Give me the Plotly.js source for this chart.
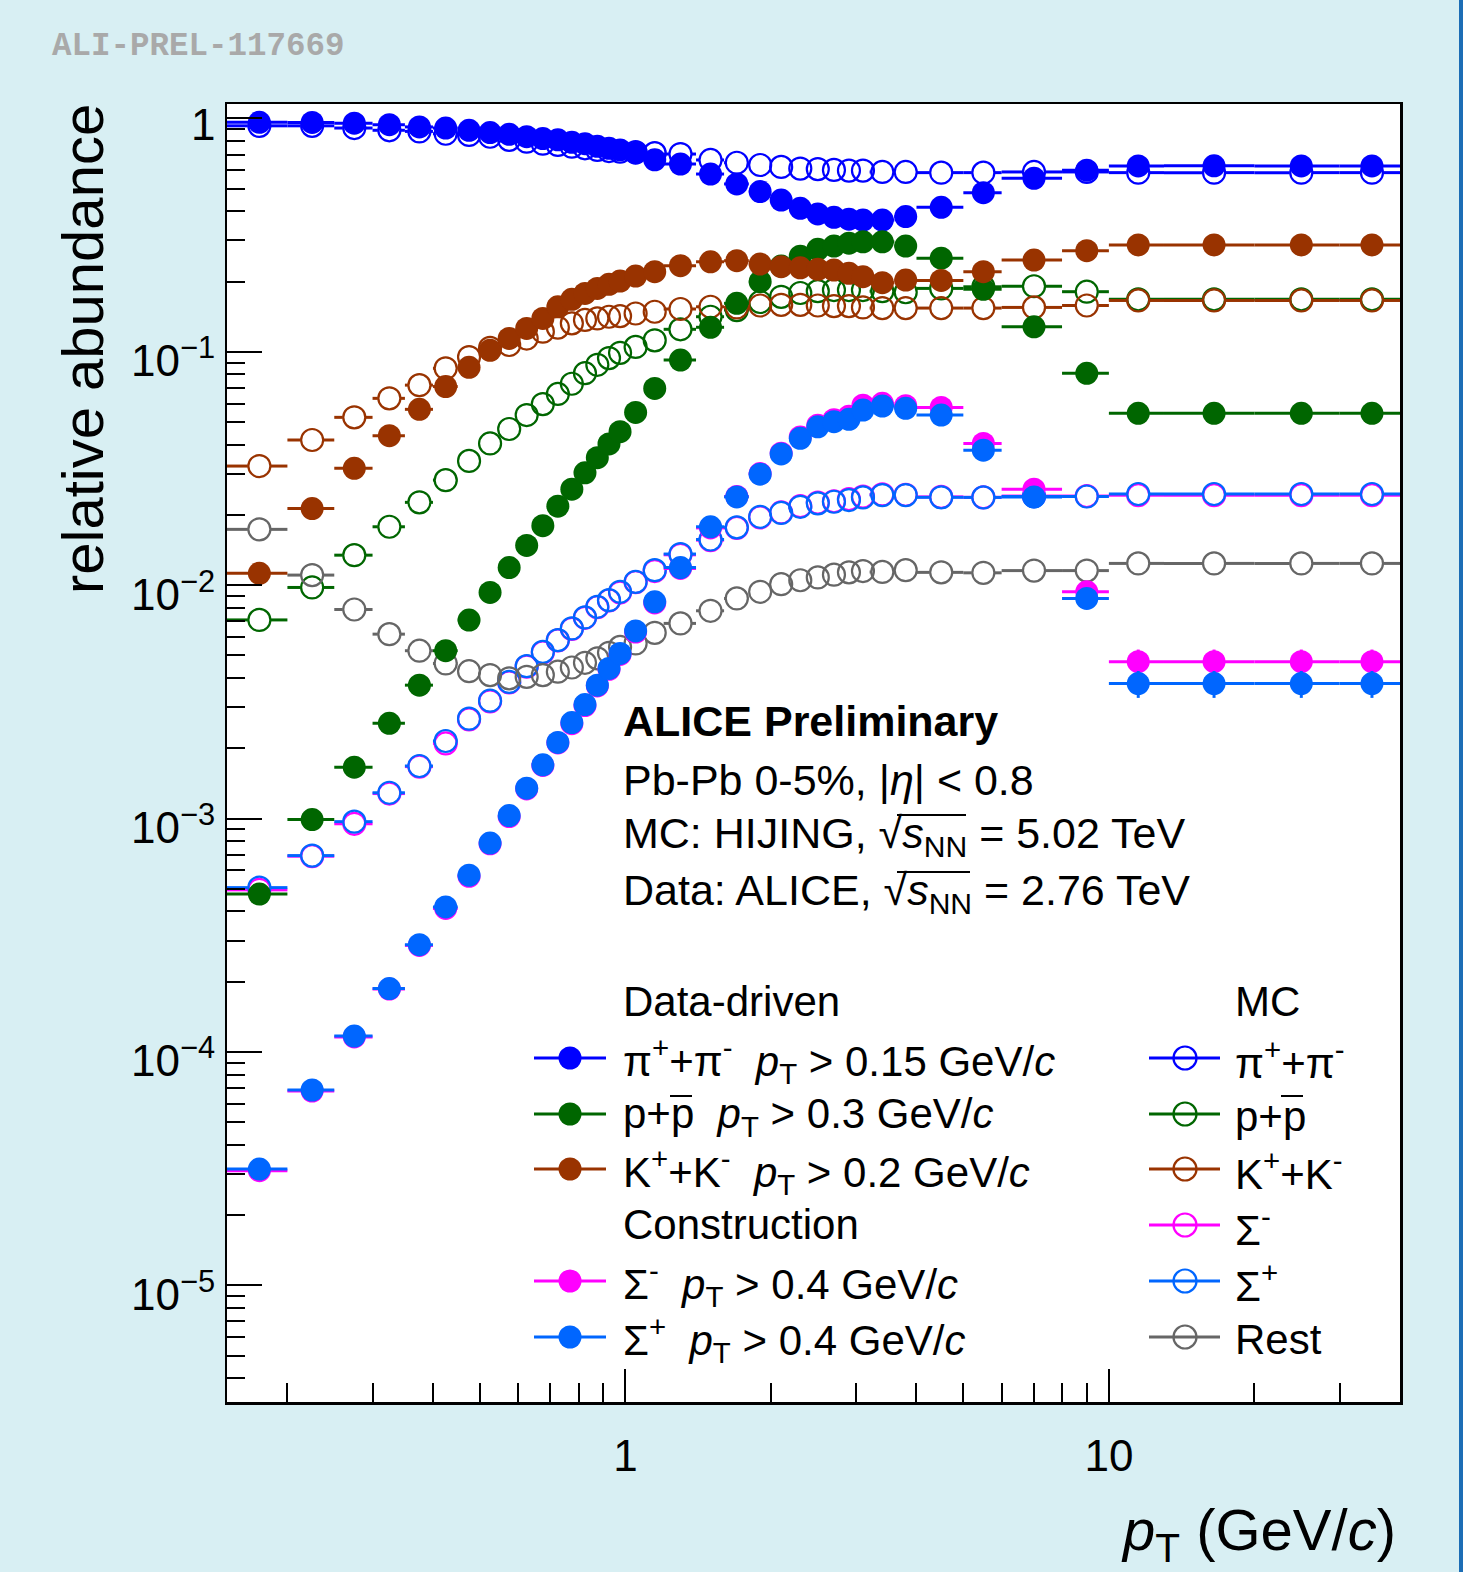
<!DOCTYPE html>
<html><head><meta charset="utf-8">
<script src="https://cdn.plot.ly/plotly-3.0.1.min.js"></script>
<style>html,body{margin:0;padding:0;background:#d8eff3;} #chart{width:1463px;height:1572px;}</style>
</head><body><div id="chart"></div><script>
// ---- bins (GeV/c) ----
const ptLow    = [0.15,0.2,0.25,0.3,0.35,0.4,0.45,0.5,0.55,0.6,0.65,0.7,0.75,0.8,0.85,0.9,0.95,1.0,1.1,1.2,1.4,1.6,1.8,2.0,2.2,2.4,2.6,2.8,3.0,3.2,3.6,4.0,5.0,6.0,8.0,10,13,20,30];
const ptHigh   = [0.2,0.25,0.3,0.35,0.4,0.45,0.5,0.55,0.6,0.65,0.7,0.75,0.8,0.85,0.9,0.95,1.0,1.1,1.2,1.4,1.6,1.8,2.0,2.2,2.4,2.6,2.8,3.0,3.2,3.6,4.0,5.0,6.0,8.0,10,13,20,30,40];
const ptCenter = [0.175,0.225,0.275,0.325,0.375,0.425,0.475,0.525,0.575,0.625,0.675,0.725,0.775,0.825,0.875,0.925,0.975,1.05,1.15,1.3,1.5,1.7,1.9,2.1,2.3,2.5,2.7,2.9,3.1,3.4,3.8,4.5,5.5,7,9,11.5,16.5,25,35];

// ---- data-driven (filled) ----
const piData = [0.963,0.962,0.954,0.94,0.92,0.91,0.89,0.87,0.855,0.835,0.82,0.81,0.79,0.78,0.76,0.745,0.733,0.71,0.665,0.638,0.578,0.524,0.486,0.447,0.412,0.39,0.377,0.37,0.367,0.367,0.38,0.416,0.481,0.554,0.60,0.626,0.627,0.626,0.626];
const pData  = [4.75e-4,9.9e-4,1.66e-3,2.56e-3,3.73e-3,5.24e-3,7.09e-3,9.31e-3,0.0119,0.0148,0.018,0.0218,0.0258,0.0303,0.0352,0.0403,0.0455,0.055,0.0697,0.0922,0.1274,0.1614,0.1998,0.233,0.257,0.275,0.284,0.292,0.296,0.296,0.284,0.252,0.1853,0.128,0.0809,0.0545,0.0545,0.0545,0.0545];
const kData  = [0.01124,0.0213,0.0317,0.0437,0.0567,0.071,0.0858,0.1015,0.1142,0.126,0.139,0.156,0.168,0.178,0.187,0.1947,0.201,0.2113,0.2205,0.234,0.2432,0.2458,0.2378,0.2317,0.229,0.2258,0.224,0.217,0.21,0.1978,0.203,0.2023,0.2205,0.2474,0.2713,0.287,0.287,0.287,0.287];
const sigMinusData = [3.1e-5,6.8e-5,1.16e-4,1.86e-4,2.86e-4,4.12e-4,5.66e-4,7.8e-4,1.02e-3,1.34e-3,1.69e-3,2.11e-3,2.55e-3,3.05e-3,3.70e-3,4.36e-3,5.05e-3,6.3e-3,8.4e-3,0.0118,0.0176,0.0240,0.0301,0.0368,0.0432,0.0485,0.0512,0.0530,0.0591,0.0602,0.0588,0.0578,0.0405,0.0258,9.37e-3,4.7e-3,4.7e-3,4.7e-3,4.7e-3];
const sigPlusData  = [3.15e-5,6.87e-5,1.17e-4,1.87e-4,2.88e-4,4.18e-4,5.72e-4,7.85e-4,1.03e-3,1.35e-3,1.70e-3,2.12e-3,2.58e-3,3.08e-3,3.73e-3,4.40e-3,5.10e-3,6.37e-3,8.49e-3,0.0119,0.0178,0.0239,0.0299,0.0365,0.0426,0.0477,0.0502,0.0514,0.0563,0.0586,0.0573,0.0536,0.0379,0.0239,8.78e-3,3.79e-3,3.79e-3,3.79e-3,3.79e-3];
const sigMinusDataErr = [0,0,0,0,0,0,0,0,0,0,0,0,0,0,0,0,0,0,0,0,0,0,0,0,0,0,0,0,0,0,0,0,0,0,0,6e-4,6e-4,6e-4,6e-4];
const sigPlusDataErr  = [0,0,0,0,0,0,0,0,0,0,0,0,0,0,0,0,0,0,0,0,0,0,0,0,0,0,0,0,0,0,0,0,0,0,0,5e-4,5e-4,5e-4,5e-4];

// ---- MC HIJING (open) ----
const piMC = [0.93,0.93,0.91,0.89,0.88,0.86,0.85,0.835,0.81,0.795,0.78,0.77,0.757,0.745,0.733,0.725,0.72,0.718,0.71,0.704,0.664,0.646,0.632,0.62,0.61,0.607,0.602,0.598,0.598,0.59,0.59,0.586,0.586,0.59,0.59,0.586,0.586,0.586,0.586];
const pMC  = [7.1e-3,9.78e-3,0.01345,0.0178,0.02265,0.0282,0.0341,0.0405,0.0467,0.0536,0.0597,0.066,0.073,0.081,0.088,0.094,0.099,0.105,0.112,0.1249,0.1414,0.151,0.1635,0.172,0.1787,0.182,0.184,0.184,0.184,0.182,0.18,0.187,0.19,0.191,0.181,0.168,0.168,0.168,0.168];
const kMC  = [0.0324,0.0419,0.0524,0.0632,0.072,0.085,0.095,0.104,0.107,0.114,0.122,0.127,0.1325,0.137,0.139,0.1414,0.1423,0.146,0.1485,0.1526,0.156,0.155,0.158,0.159,0.159,0.158,0.157,0.157,0.155,0.154,0.154,0.154,0.154,0.155,0.158,0.166,0.166,0.166,0.166];
const sigMinusMC = [4.95e-4,6.9e-4,9.5e-4,1.28e-3,1.67e-3,2.10e-3,2.66e-3,3.18e-3,3.83e-3,4.48e-3,5.15e-3,5.8e-3,6.5e-3,7.25e-3,8.05e-3,8.6e-3,9.3e-3,0.0103,0.0115,0.0135,0.0156,0.0176,0.0195,0.0205,0.0218,0.0226,0.0229,0.0234,0.0240,0.0245,0.0244,0.0239,0.0238,0.0241,0.0241,0.0243,0.0243,0.0243,0.0243];
const sigPlusMC  = [5.06e-4,6.94e-4,9.7e-4,1.29e-3,1.68e-3,2.15e-3,2.68e-3,3.2e-3,3.85e-3,4.5e-3,5.18e-3,5.82e-3,6.53e-3,7.28e-3,8.08e-3,8.63e-3,9.37e-3,0.01034,0.0116,0.0136,0.0157,0.0177,0.01964,0.0204,0.02168,0.02243,0.02278,0.02317,0.02378,0.02433,0.02433,0.0238,0.02378,0.024,0.024,0.0246,0.0246,0.0246,0.0246];
const restMC = [0.01735,0.01105,7.87e-3,6.17e-3,5.24e-3,4.62e-3,4.28e-3,4.12e-3,3.99e-3,4.05e-3,4.12e-3,4.26e-3,4.44e-3,4.65e-3,4.86e-3,5.13e-3,5.44e-3,5.63e-3,6.25e-3,6.86e-3,7.77e-3,8.78e-3,9.37e-3,0.0101,0.0105,0.0108,0.0111,0.01135,0.0115,0.0114,0.0116,0.01135,0.0113,0.01155,0.01155,0.0124,0.0124,0.0124,0.0124];

// ---- axis ticks ----
const xTickVals = [1,10];
const xTickText = ['1','10'];
const xMinorVals = [0.2,0.3,0.4,0.5,0.6,0.7,0.8,0.9,2,3,4,5,6,7,8,9,20,30];
const yTickVals = [1e-5,1e-4,1e-3,1e-2,1e-1,1];
const yTickText = ['10<sup>\u22125</sup>','10<sup>\u22124</sup>','10<sup>\u22123</sup>','10<sup>\u22122</sup>','10<sup>\u22121</sup>','1'];
const yMinorVals = [];
[1e-6,1e-5,1e-4,1e-3,1e-2,1e-1].forEach(d => [2,3,4,5,6,7,8,9].forEach(m => yMinorVals.push(m*d)));

// ---- colours / labels ----
const colPi = '#0000ff', colP = '#006600', colK = '#993300', colSm = '#ff00ff', colSp = '#0066ff', colRest = '#666666';
const legendData = [
  {label:'\u03c0<sup>+</sup>+\u03c0<sup>-</sup>  <i>p</i><sub>T</sub> > 0.15 GeV/<i>c</i>', color: colPi},
  {label:'p+p  <i>p</i><sub>T</sub> > 0.3 GeV/<i>c</i>', color: colP},
  {label:'K<sup>+</sup>+K<sup>-</sup>  <i>p</i><sub>T</sub> > 0.2 GeV/<i>c</i>', color: colK},
  {label:'\u03a3<sup>-</sup>  <i>p</i><sub>T</sub> > 0.4 GeV/<i>c</i>', color: colSm},
  {label:'\u03a3<sup>+</sup>  <i>p</i><sub>T</sub> > 0.4 GeV/<i>c</i>', color: colSp}
];
const legendMC = [
  {label:'\u03c0<sup>+</sup>+\u03c0<sup>-</sup>', color: colPi},
  {label:'p+p', color: colP},
  {label:'K<sup>+</sup>+K<sup>-</sup>', color: colK},
  {label:'\u03a3<sup>-</sup>', color: colSm},
  {label:'\u03a3<sup>+</sup>', color: colSp},
  {label:'Rest', color: colRest}
];

// ---- geometry ----
const W = 1463, H = 1572, L = 227, R = 1400, T = 104, B = 1402;
const xRange = [Math.log10(0.15), Math.log10(40)];
const yRange = [-5.5, 0.062];
const px = x => (x - L) / (R - L);
const py = y => (B - y) / (B - T);
const pxPerDec = (R - L) / (xRange[1] - xRange[0]);
const MS = 23, MR = 11.5;
const font = 'Liberation Sans, Arial, Helvetica, sans-serif';

function dataTrace(vals, color, errY) {
  return {
    x: ptCenter, y: vals, type: 'scatter', mode: 'markers',
    marker: {symbol: 'circle', size: MS, color: color, line: {width: 0}},
    error_x: {type: 'data', symmetric: false,
      array: ptHigh.map((h, i) => h - ptCenter[i]),
      arrayminus: ptLow.map((l, i) => ptCenter[i] - l),
      color: color, thickness: 3, width: 0},
    error_y: errY ? {type: 'data', array: errY, color: color, thickness: 3, width: 0} : {visible: false},
    showlegend: false, hoverinfo: 'skip'
  };
}
function mcTraces(vals, color) {
  const f = Math.pow(10, MR / pxPerDec);
  const sx = [], sy = [];
  vals.forEach((v, i) => {
    const c = ptCenter[i];
    if (ptLow[i] < c / f) { sx.push(ptLow[i], c / f, null); sy.push(v, v, null); }
    if (ptHigh[i] > c * f) { sx.push(c * f, ptHigh[i], null); sy.push(v, v, null); }
  });
  return [
    {x: sx, y: sy, type: 'scatter', mode: 'lines', line: {color: color, width: 3}, connectgaps: false, showlegend: false, hoverinfo: 'skip'},
    {x: ptCenter, y: vals, type: 'scatter', mode: 'markers',
      marker: {symbol: 'circle-open', size: MS - 1, color: color, line: {width: 2.2, color: color}},
      showlegend: false, hoverinfo: 'skip'}
  ];
}

const traces = [].concat(
  mcTraces(piMC, colPi), mcTraces(pMC, colP), mcTraces(kMC, colK),
  mcTraces(sigMinusMC, colSm), mcTraces(sigPlusMC, colSp), mcTraces(restMC, colRest),
  [dataTrace(piData, colPi), dataTrace(pData, colP), dataTrace(kData, colK),
   dataTrace(sigMinusData, colSm, sigMinusDataErr), dataTrace(sigPlusData, colSp, sigPlusDataErr)]
);

// ---- legend (drawn) ----
const shapes = [], annotations = [];
const rowsLeft = [1058, 1114, 1169, 1281, 1337];
const rowsRight = [1058, 1114, 1169, 1225, 1281, 1337];
function legendSample(cx, x0, x1, y, color, filled) {
  shapes.push({type: 'line', xref: 'paper', yref: 'paper', x0: px(x0), x1: px(x1), y0: py(y), y1: py(y), line: {color: color, width: 3}});
  shapes.push({type: 'circle', xref: 'paper', yref: 'paper', xsizemode: 'pixel', ysizemode: 'pixel',
    xanchor: px(cx), yanchor: py(y), x0: -MR, x1: MR, y0: -MR, y1: MR,
    fillcolor: filled ? color : 'rgba(0,0,0,0)', line: {color: color, width: filled ? 0 : 2.2}});
}
function txt(text, x, y, size, opts) {
  annotations.push(Object.assign({text: text, xref: 'paper', yref: 'paper', x: px(x), y: py(y),
    xanchor: 'left', yanchor: 'middle', showarrow: false, font: {family: font, size: size, color: '#000'}}, opts || {}));
}
function bar(x0, x1, y, w) {
  shapes.push({type: 'line', xref: 'paper', yref: 'paper', x0: px(x0), x1: px(x1), y0: py(y), y1: py(y), line: {color: '#000', width: w || 2}});
}
legendData.forEach((e, i) => { legendSample(570, 534, 606, rowsLeft[i], e.color, true); txt(e.label, 621, rowsLeft[i] + 2, 42); });
legendMC.forEach((e, i) => { legendSample(1185, 1149, 1220, rowsRight[i], e.color, false); txt(e.label, 1233, rowsRight[i] + 2, 42); });
txt('Data-driven', 621, 1001, 42);
txt('Construction', 621, 1224, 42);
txt('MC', 1233, 1001, 42);
// anti-proton bars
bar(670, 692, 1096, 2);
bar(1281, 1303, 1096, 2);

// ---- text block ----
txt('<b>ALICE Preliminary</b>', 621, 721, 43);
txt('Pb-Pb 0-5%, |<i>\u03b7</i>| < 0.8', 621, 780, 43);
txt('MC: HIJING, \u221a<i>s</i><sub>NN</sub> = 5.02 TeV', 621, 836, 43);
txt('Data: ALICE, \u221a<i>s</i><sub>NN</sub> = 2.76 TeV', 621, 893, 43);
bar(897, 966, 815, 2);
bar(897, 970, 872, 2);

// ---- titles / watermark ----
txt('<b>ALI-PREL-117669</b>', 50, 46, 32.5, {font: {family: 'Liberation Mono, Courier New, monospace', size: 32.5, color: '#a9a9a9'}});
annotations.push({text: 'relative abundance', xref: 'paper', yref: 'paper', x: px(83), y: py(102), xanchor: 'center', yanchor: 'top',
  textangle: -90, showarrow: false, font: {family: font, size: 58, color: '#000'}});
annotations.push({text: '<i>p</i><sub>T</sub> (GeV/<i>c</i>)', xref: 'paper', yref: 'paper', x: px(1398), y: py(1534), xanchor: 'right', yanchor: 'middle',
  showarrow: false, font: {family: font, size: 58, color: '#000'}});
// y tick labels
yTickVals.forEach((v, i) => {
  annotations.push({text: yTickText[i], xref: 'paper', yref: 'paper', x: px(217),
    y: (Math.log10(v) - yRange[0]) / (yRange[1] - yRange[0]), yshift: -6,
    xanchor: 'right', yanchor: 'middle', showarrow: false, font: {family: font, size: 44, color: '#000'}});
});

// right border stripe
shapes.push({type: 'line', xref: 'paper', yref: 'paper', x0: px(1461), x1: px(1461), y0: py(H + 5), y1: py(-5), line: {color: '#1c6db5', width: 4}});

const layout = {
  width: W, height: H,
  margin: {l: L, r: W - R, t: T, b: H - B, pad: 0},
  paper_bgcolor: '#d8eff3', plot_bgcolor: '#ffffff',
  font: {family: font, color: '#000'},
  xaxis: {type: 'log', range: xRange, showgrid: false, zeroline: false,
    showline: true, linecolor: '#000', linewidth: 2.5, mirror: true,
    ticks: 'inside', ticklen: 33, tickwidth: 2, tickcolor: '#000',
    tickmode: 'array', tickvals: xTickVals, ticktext: xTickText,
    tickfont: {family: font, size: 44, color: '#000'}, ticklabelstandoff: 14,
    minor: {tickmode: 'array', tickvals: xMinorVals, ticks: 'inside', ticklen: 19, tickwidth: 2, tickcolor: '#000', showgrid: false}},
  yaxis: {type: 'log', range: yRange, showgrid: false, zeroline: false,
    showline: true, linecolor: '#000', linewidth: 2.5, mirror: true,
    ticks: 'inside', ticklen: 35, tickwidth: 2, tickcolor: '#000',
    tickmode: 'array', tickvals: yTickVals, ticktext: yTickText, showticklabels: false,
    minor: {tickmode: 'array', tickvals: yMinorVals, ticks: 'inside', ticklen: 18, tickwidth: 2, tickcolor: '#000', showgrid: false}},
  shapes: shapes, annotations: annotations, showlegend: false
};
Plotly.newPlot('chart', traces, layout, {staticPlot: true, displayModeBar: false});
</script></body></html>
